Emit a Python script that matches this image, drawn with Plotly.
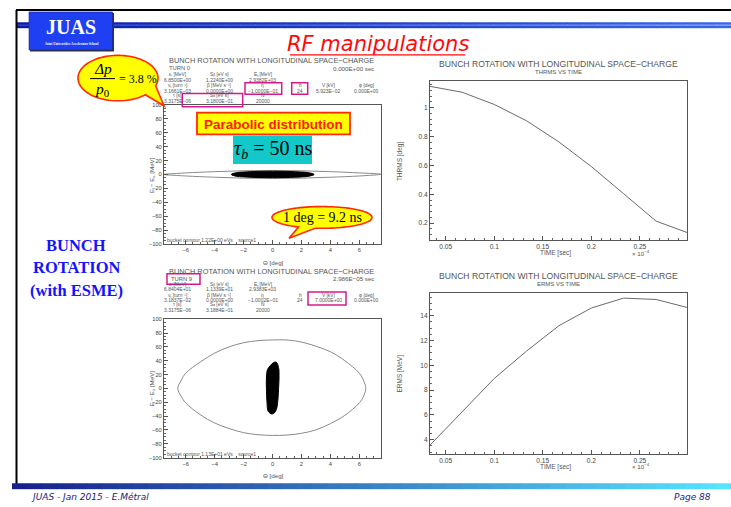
import numpy as np
import plotly.graph_objects as go

# ---------------- data ----------------
time_e4 = [0.0333, 0.0667, 0.1, 0.1333, 0.1667, 0.2, 0.2333, 0.2667, 0.2986]   # x 1e-4 s
thrms_deg = [1.148, 1.107, 1.022, 0.909, 0.762, 0.592, 0.404, 0.214, 0.135]
erms_mev = [3.52, 6.27, 8.94, 11.15, 13.2, 14.62, 15.42, 15.31, 14.67]

# turn 0 : bucket contour and parabolic bunch
bucket0_theta = [-7.5, -6, -4, -2, 0, 2, 4, 6, 7.5, 6, 4, 2, 0, -2, -4, -6, -7.5]
bucket0_e = [0.3, 2.2, 4.0, 5.3, 5.8, 5.3, 4.0, 2.2, 0.3, -2.2, -4.0, -5.3, -5.8, -5.3, -4.0, -2.2, -0.3]
bunch0_theta = [-2.85, -2.5, -2, -1, 0, 1, 2, 2.5, 2.88, 2.5, 2, 1, 0, -1, -2, -2.5, -2.85]
bunch0_e = [0, 2.6, 3.5, 4.4, 4.7, 4.4, 3.5, 2.6, 0, -2.6, -3.5, -4.4, -4.7, -4.4, -3.5, -2.6, 0]

# turn 9 : bucket contour and rotated bunch
bucket9_theta = [-6.55, -6.3, -6, -5, -4, -3, -2, -1, 0, 1, 2, 3, 4, 5, 6, 6.3, 6.45,
                 6.3, 6, 5, 4, 3, 2, 1, 0, -1, -2, -3, -4, -5, -6, -6.3, -6.55]
bucket9_e = [0, 12, 22, 38, 51, 60, 66, 69, 70, 70, 67, 61, 53, 40, 22, 11, 0,
             -11, -21, -39, -51, -60, -65, -67.5, -68, -67, -64, -58, -50, -38, -21, -12, 0]
bunch9_theta = [0.25, 0.42, 0.45, 0.42, 0.38, 0.3, 0.15, -0.05, -0.3, -0.38, -0.42, -0.42, -0.35, -0.15, 0.05, 0.25]
bunch9_e = [38, 30, 15, 0, -15, -28, -35, -37, -33, -20, 0, 15, 27, 33, 37, 38]

theta_ticks = [-6, -4, -2, 0, 2, 4, 6]
e_ticks = [100, 80, 60, 40, 20, 0, -20, -40, -60, -80, -100]
time_ticks = [0.05, 0.1, 0.15, 0.2, 0.25]
time_ticklabels = ["0.05", "0.1", "0.15", "0.2", "0.25"]
thrms_ticks = [0.2, 0.4, 0.6, 0.8, 1.0]
thrms_ticklabels = ["0.2", "0.4", "0.6", "0.8", "1"]
erms_ticks = [4, 6, 8, 10, 12, 14]

# parameter tables
tab_labels = [["εₗ [MeV]", "Sᵦ [eV s]", "Eₛ [MeV]"],
              ["νₛ [turn⁻¹]", "β [MeV s⁻¹]", "η", "h", "V [kV]", "φ [deg]"],
              ["τ [s]", "Sₐ [eV s]", "N"]]
tab0_values = [["6.8500E+00", "1.2240E+00", "2.9382E+03"],
               ["3.1661E−03", "0.0000E+00", "−1.0000E−01", "24", "5.923E−02", "0.000E+00"],
               ["3.3175E−06", "3.1800E−01", "20000"]]
tab9_values = [["6.8404E+01", "1.1339E+01", "2.9383E+03"],
               ["3.1837E−02", "0.0000E+00", "−1.0002E−01", "24", "7.0000E+00", "0.000E+00"],
               ["3.3175E−06", "3.1884E−01", "20000"]]

# ---------------- helpers ----------------
W, H = 731, 507
def X(p): return p / W
def Y(p): return 1 - p / H

GREY = "#555555"
SANS = "Liberation Sans, Arial, sans-serif"
SERIF = "Liberation Serif, Times New Roman, serif"

shapes = []
annos = []

def rect(x0, y0, x1, y1, fill="rgba(0,0,0,0)", line=None, lw=1.0, layer="above"):
    shapes.append(dict(type="rect", xref="paper", yref="paper",
                       x0=X(x0), x1=X(x1), y0=Y(y1), y1=Y(y0),
                       fillcolor=fill, layer=layer,
                       line=dict(color=line if line else "rgba(0,0,0,0)", width=lw if line else 0)))

def seg(x0, y0, x1, y1, color, w):
    shapes.append(dict(type="line", xref="paper", yref="paper",
                       x0=X(x0), x1=X(x1), y0=Y(y0), y1=Y(y1),
                       line=dict(color=color, width=w), layer="above"))

def txt(x, y, s, size, color=GREY, family=SANS, xa="center", ya="middle", angle=0):
    annos.append(dict(xref="paper", yref="paper", x=X(x), y=Y(y), text=s, showarrow=False,
                      xanchor=xa, yanchor=ya, textangle=angle, borderpad=0,
                      font=dict(size=size, color=color, family=family)))

def hexc(c):
    return tuple(int(c[i:i + 2], 16) for i in (1, 3, 5))

def gradient(x0, x1, y0, y1, c0, c1, n=48):
    a, b = hexc(c0), hexc(c1)
    xs = np.linspace(x0, x1, n + 1)
    for i in range(n):
        t = i / (n - 1)
        col = "rgb(%d,%d,%d)" % tuple(int(a[k] + (b[k] - a[k]) * t) for k in range(3))
        rect(xs[i], y0, xs[i + 1] + 0.6, y1, fill=col)

def bubble(cx, cy, rx, ry, g0, g1, tip, fill="#ffff00", line="#ff2a00"):
    ang = np.radians(np.linspace(g1, g0 + 360, 90))
    pts = [(cx + rx * np.cos(a), cy + ry * np.sin(a)) for a in ang]
    d = "M " + " L ".join("%.5f,%.5f" % (X(px), Y(py)) for px, py in pts)
    d += " L %.5f,%.5f Z" % (X(tip[0]), Y(tip[1]))
    shapes.append(dict(type="path", xref="paper", yref="paper", path=d,
                       fillcolor=fill, line=dict(color=line, width=1.6), layer="above"))

# ---------------- slide decoration ----------------
gradient(17, 731, 19.5, 25.5, "#0a1aa8", "#3a66e6")
gradient(17, 731, 21.8, 23.0, "#3050d8", "#8fb4ff")
seg(16, 7, 731, 7, "black", 2)
seg(16.5, 7, 16.5, 490, "black", 2)
gradient(12, 731, 486, 492, "#18208e", "#58e4ff")
rect(30, 10, 114, 49, fill="#333333")
rect(29, 9, 112.5, 47.5, fill="#1f3ff2", line="#1a2a90", lw=0.6)
txt(71, 24, "<b>JUAS</b>", 20, color="white", family=SERIF)
txt(71, 41, "<b>Joint Universities Accelerator School</b>", 3.4, color="white", family=SERIF)

txt(378, 41, "<i>RF manipulations</i>", 21, color="#ff0a0a", family="DejaVu Sans, sans-serif")
seg(290, 52.5, 465, 52.5, "#ff0a0a", 1.2)

txt(76, 245, "<b>BUNCH</b>", 16.5, color="#1414ff", family=SERIF)
txt(76, 268, "<b>ROTATION</b>", 16.5, color="#1414ff", family=SERIF)
txt(76, 291, "<b>(with ESME)</b>", 16.5, color="#1414ff", family=SERIF)

txt(30, 500, "<i>JUAS - Jan 2015 - E.Métral</i>", 9, color="#1a1a80", family="DejaVu Sans, sans-serif", xa="left")
txt(712, 500, "<i>Page 88</i>", 9, color="#1a1a80", family="DejaVu Sans, sans-serif", xa="right")

# ---------------- ESME plot texts ----------------
TITLE = "BUNCH ROTATION WITH LONGITUDINAL SPACE−CHARGE"
col_x = [[177.3, 219.3, 262.7], [177.3, 219.3, 262.7, 300, 328.3, 366], [177.3, 219.3, 262.7]]

def table(dy, values):
    row_lab_y = [72.8, 83.6, 93.6]
    row_val_y = [77.8, 88.6, 98.8]
    for r in range(3):
        for c, xv in enumerate(col_x[r]):
            txt(xv, row_lab_y[r] + dy, tab_labels[r][c], 4.8)
            txt(xv, row_val_y[r] + dy, values[r][c], 5)

# top-left
txt(271, 58.5, TITLE, 7.4)
txt(168, 65.5, "TURN 0", 5.8, xa="left")
txt(375, 66, "0.000E+00 sec", 6.2, xa="right")
table(0, tab0_values)
txt(166, 240, "bucket contour 1.22E+00 eVs    source1", 5, xa="left")
txt(273, 263, "Θ [deg]", 6.2)
txt(152, 174, "E − E<sub>s</sub> [MeV]", 6.2, angle=-90)

# bottom-left
txt(271, 271.5, TITLE, 7.4)
txt(170, 279, "TURN 9", 5.8, xa="left")
txt(375, 278.5, "2.986E−05 sec", 6.2, xa="right")
table(212, tab9_values)
txt(166, 456, "bucket contour 1.13E+01 eVs    source1", 5, xa="left")
txt(273, 478, "Θ [deg]", 6.2)
txt(152, 390, "E − E<sub>s</sub> [MeV]", 6.2, angle=-90)

# right plots
txt(558, 61.5, TITLE, 8.6)
txt(558, 69.5, "THRMS VS TIME", 6)
txt(400, 160, "THRMS [deg]", 6.5, angle=-90)
txt(555, 253, "TIME [sec]", 6.5)
txt(641, 252.5, "× 10<sup>−4</sup>", 6.2)

txt(558, 276.5, TITLE, 8.6)
txt(558, 284.5, "ERMS VS TIME", 6)
txt(400, 375, "ERMS [MeV]", 6.5, angle=-90)
txt(555, 469.5, "TIME [sec]", 6.5)
txt(641, 469, "× 10<sup>−4</sup>", 6.2)

# ---------------- highlight boxes and callouts ----------------
MAG = "#d6188e"
rect(245, 80.7, 281.7, 92.3, line=MAG, lw=1.5)
rect(291.7, 80.7, 307.7, 92.3, line=MAG, lw=1.5)
rect(182.3, 91.7, 242.7, 105, line=MAG, lw=1.5)
rect(167, 274, 200, 284.5, line=MAG, lw=1.5)
rect(308, 292.5, 346, 305.5, line=MAG, lw=1.5)

rect(197, 111, 350, 133, fill="#ffff00", line="#ff2a00", lw=1.8)
txt(273.5, 122.5, "<b>Parabolic distribution</b>", 13.5, color="#ff1a00", family=SANS)
rect(233, 134, 312, 163, fill="#12c8c8")
txt(272.5, 148.5, "<i>τ</i><sub><i>b</i></sub> = 50 ns", 20, color="black", family=SERIF)

bubble(118, 76, 40, 23, 20, 47, (164, 104))
txt(103, 66.5, "<i>Δp</i>", 15.5, color="black", family=SERIF)
seg(90, 76.5, 115, 76.5, "black", 1)
txt(102, 87.5, "<i>p</i><sub>0</sub>", 15.5, color="black", family=SERIF)
txt(138, 77, "= 3.8 %", 12, color="black", family=SERIF)

bubble(322, 217, 50, 11, 98, 118, (289, 238))
txt(322, 217, "1 deg = 9.2 ns", 14, color="black", family=SERIF)

# ---------------- figure ----------------
fig = go.Figure()
LINE = dict(color="#6a6a6a", width=1)
fig.add_trace(go.Scatter(x=bucket0_theta, y=bucket0_e, mode="lines", line=dict(color="#8a8a8a", width=1, shape="spline"),
                         xaxis="x", yaxis="y"))
fig.add_trace(go.Scatter(x=bunch0_theta, y=bunch0_e, mode="lines", fill="toself", fillcolor="black",
                         line=dict(color="black", width=1, shape="spline"), xaxis="x", yaxis="y"))
fig.add_trace(go.Scatter(x=bucket9_theta, y=bucket9_e, mode="lines", line=dict(color="#8a8a8a", width=1, shape="spline"),
                         xaxis="x2", yaxis="y2"))
fig.add_trace(go.Scatter(x=bunch9_theta, y=bunch9_e, mode="lines", fill="toself", fillcolor="black",
                         line=dict(color="black", width=1, shape="spline"), xaxis="x2", yaxis="y2"))
fig.add_trace(go.Scatter(x=time_e4, y=thrms_deg, mode="lines", line=LINE, xaxis="x3", yaxis="y3"))
fig.add_trace(go.Scatter(x=time_e4, y=erms_mev, mode="lines", line=LINE, xaxis="x4", yaxis="y4"))

def ax(domain, rng, tickvals, ticktext, anchor, size, minor_dtick):
    return dict(domain=domain, range=rng, anchor=anchor, tickmode="array", tickvals=tickvals,
                ticktext=ticktext, showline=True, linecolor="#555555", linewidth=1, mirror=True,
                ticks="inside", ticklen=4, tickcolor="#555555", tickwidth=0.8,
                minor=dict(ticks="inside", ticklen=2, dtick=minor_dtick, tickcolor="#666666", tickwidth=0.6),
                showgrid=False, zeroline=False, tickfont=dict(size=size, color="#444444", family=SANS))

e_lab = [str(v).replace("-", "−") for v in e_ticks]
th_lab = [str(v).replace("-", "−") for v in theta_ticks]
LX = [X(164), X(381)]
RX = [X(430), X(687)]
TR = [min(time_e4) + 0.0005, max(time_e4)]
layout = dict(
    width=W, height=H, margin=dict(l=0, r=0, t=0, b=0, pad=0), autosize=False,
    paper_bgcolor="white", plot_bgcolor="white", showlegend=False,
    xaxis=ax(LX, [-7.5, 7.5], theta_ticks, th_lab, "y", 5.8, 0.5),
    yaxis=ax([Y(244), Y(103)], [-100, 100], e_ticks, e_lab, "x", 5.8, 5),
    xaxis2=ax(LX, [-7.5, 7.5], theta_ticks, th_lab, "y2", 5.8, 0.5),
    yaxis2=ax([Y(460), Y(320)], [-100, 100], e_ticks, e_lab, "x2", 5.8, 5),
    xaxis3=ax(RX, TR, time_ticks, time_ticklabels, "y3", 6.6, 0.01),
    yaxis3=ax([Y(240), Y(79)], [0.082, 1.184], thrms_ticks, thrms_ticklabels, "x3", 6.6, 0.04),
    xaxis4=ax(RX, TR, time_ticks, time_ticklabels, "y4", 6.6, 0.01),
    yaxis4=ax([Y(456), Y(293)], [2.88, 15.87], erms_ticks, [str(v) for v in erms_ticks], "x4", 6.6, 0.5),
    shapes=shapes, annotations=annos,
)
fig.update_layout(**layout)
fig.write_html("out.html")
